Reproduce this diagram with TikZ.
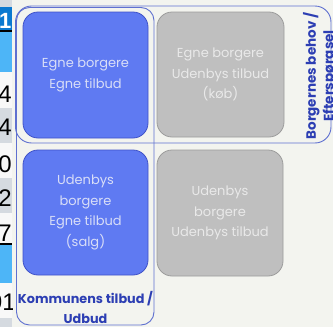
\documentclass[tikz,border=0pt]{standalone}
\usepackage{fontspec}
\setmainfont{Poppins}
\newfontfamily\cellfont{Liberation Sans}

\definecolor{paper}{HTML}{F3F4EF}
\definecolor{bluefill}{HTML}{5F7AF2}
\definecolor{blueedge}{HTML}{3F52C8}
\definecolor{bluetext}{HTML}{D9DEF7}
\definecolor{grayfill}{HTML}{BFBFBF}
\definecolor{grayedge}{HTML}{9C9C9C}
\definecolor{graytext}{HTML}{E9E9E9}
\definecolor{framecol}{HTML}{5F70D0}
\definecolor{labelcol}{HTML}{2C3EB3}
\definecolor{celldark}{HTML}{0B79D0}
\definecolor{celllight}{HTML}{4DB5F7}
\definecolor{cellgray}{HTML}{D5DAE0}
\definecolor{cellwhite}{HTML}{F8F8F8}

\tikzset{
  quadbox/.style={rounded corners=15pt, line width=0.8pt, align=center,
    font=\fontsize{13}{20.5}\selectfont, inner sep=0pt},
  ownbox/.style={quadbox, fill=bluefill, draw=blueedge, text=bluetext},
  otherbox/.style={quadbox, fill=grayfill, draw=grayedge, text=graytext},
  groupframe/.style={draw=framecol, line width=0.9pt},
  grouplabel/.style={text=labelcol, align=center, inner sep=0pt,
    font=\bfseries\fontsize{12.8}{20}\selectfont},
  cellnum/.style={anchor=base east, inner sep=0pt,
    font=\cellfont\fontsize{24}{24}\selectfont},
}

\begin{document}
\begin{tikzpicture}[x=1pt, y=-1pt]
\useasboundingbox (0,0) rectangle (333,327);
\fill[paper] (0,0) rectangle (333,327);

% spreadsheet column on the left edge
\begin{scope}
\clip (-1,0) rectangle (12,327);
\fill[cellgray]  (-1,0)   rectangle (12,7);
\fill[celldark]  (-1,7)   rectangle (12,30);
\fill[black]     (-1,30)  rectangle (12,32);
\fill[celllight] (-1,32)  rectangle (12,72);
\fill[cellwhite] (-1,72)  rectangle (12,108);
\fill[cellgray]  (-1,108) rectangle (12,143);
\fill[cellwhite] (-1,143) rectangle (12,178);
\fill[cellgray]  (-1,178) rectangle (12,213);
\fill[cellwhite] (-1,213) rectangle (12,243);
\fill[black]     (-1,243) rectangle (12,245);
\fill[celllight] (-1,245) rectangle (12,283);
\fill[cellwhite] (-1,283) rectangle (12,318);
\fill[cellgray]  (-1,318) rectangle (12,327);
\node[cellnum, text=white, font=\cellfont\bfseries\fontsize{22}{22}\selectfont] (c1) at (11.5,28) {1};
\node[cellnum] (c2) at (12,102) {4};
\node[cellnum] (c3) at (12,135) {4};
\node[cellnum] (c4) at (12,172) {0};
\node[cellnum] (c5) at (12,206) {2};
\node[cellnum] (c6) at (12,241) {7};
\node[cellnum] (c7) at (16,310) {91};
\end{scope}

% group frames
\draw[groupframe, rounded corners=16pt] (15.5,6) rectangle (331,143);
\draw[groupframe, rounded corners=13pt] (16.5,7.5) rectangle (154,325);

% quadrants
\node[ownbox, minimum width=125pt, minimum height=126pt] (ownown) at (85.5,75)
  {Egne borgere\\Egne tilbud};
\node[otherbox, minimum width=127pt, minimum height=125pt] (ownother) at (220.5,74.5)
  {Egne borgere\\Udenbys tilbud\\(køb)};
\node[ownbox, minimum width=125pt, minimum height=125pt] (otherown) at (85.5,212.5)
  {Udenbys\\borgere\\Egne tilbud\\(salg)};
\node[otherbox, minimum width=126pt, minimum height=126pt] (otherother) at (220,213)
  {Udenbys\\borgere\\Udenbys tilbud};

% frame labels
\node[grouplabel] (supply) at (85.5,307.5) {Kommunens tilbud /\\Udbud};
\node[grouplabel, rotate=90, font=\bfseries\fontsize{13.5}{17.5}\selectfont] (demand) at (320,76)
  {Borgernes behov /\\Efterspørgsel};
\end{tikzpicture}
\end{document}
